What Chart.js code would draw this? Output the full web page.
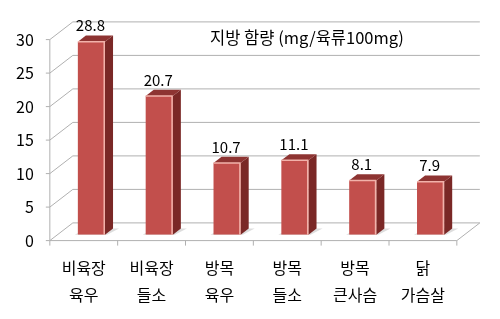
<!DOCTYPE html>
<html>
<head>
<meta charset="utf-8">
<script src="https://cdn.jsdelivr.net/npm/chart.js@4"></script>
<style>
  html, body { margin: 0; padding: 0; background: #fff; }
  #grafico { display: block; }
</style>
</head>
<body>
<canvas id="grafico" width="500" height="319"></canvas>
<script>
// dados do gráfico
const categorias = [
  ["비육장", "육우"],
  ["비육장", "들소"],
  ["방목", "육우"],
  ["방목", "들소"],
  ["방목", "큰사슴"],
  ["닭", "가슴살"]
];
const gordura = [28.8, 20.7, 10.7, 11.1, 8.1, 7.9];
const ticksY = [0, 5, 10, 15, 20, 25, 30];
const titulo = "지방 함량 (mg/육류100mg)";

const fonte = '"Noto Sans CJK KR", "Noto Sans", sans-serif';

// profundidade 3D: vetor da parede da frente até a parede do fundo
const prof = { dx: 23, dy: -17.7 };
const planoBarra = 1 / 3;   // barras ficam a 1/3 da profundidade
const profBarra = 0.35;     // espessura das barras

const efeito3d = {
  id: 'efeito3d',
  beforeDatasetsDraw(chart) {
    const { ctx, chartArea: area, scales } = chart;
    const y = scales.y;
    const fx = -planoBarra * prof.dx, fy = -planoBarra * prof.dy;
    const bx = (1 - planoBarra) * prof.dx, by = (1 - planoBarra) * prof.dy;
    ctx.save();
    ctx.lineWidth = 1;
    ctx.strokeStyle = '#b0b0b0';

    // linhas de grade na parede do fundo + diagonais da parede lateral
    ticksY.forEach(v => {
      const py = y.getPixelForValue(v);
      ctx.beginPath();
      ctx.moveTo(area.left + bx, py + by);
      ctx.lineTo(area.right + bx, py + by);
      ctx.stroke();
      ctx.beginPath();
      ctx.moveTo(area.left + fx, py + fy);
      ctx.lineTo(area.left + bx, py + by);
      ctx.stroke();
      // marca no eixo
      ctx.beginPath();
      ctx.moveTo(area.left + fx - 4, py + fy);
      ctx.lineTo(area.left + fx, py + fy);
      ctx.stroke();
    });

    // piso
    const y0 = y.getPixelForValue(0);
    ctx.beginPath();
    ctx.moveTo(area.left + fx, y0 + fy);
    ctx.lineTo(area.right + fx, y0 + fy);
    ctx.lineTo(area.right + bx, y0 + by);
    ctx.stroke();

    // eixo vertical da frente
    ctx.beginPath();
    ctx.moveTo(area.left + fx, y.getPixelForValue(30) + fy);
    ctx.lineTo(area.left + fx, y0 + fy);
    ctx.stroke();

    // marcas das categorias
    const larg = (area.right - area.left) / categorias.length;
    for (let i = 0; i <= categorias.length; i++) {
      const px = area.left + fx + i * larg;
      ctx.beginPath();
      ctx.moveTo(px, y0 + fy);
      ctx.lineTo(px, y0 + fy + 5);
      ctx.stroke();
    }

    // sombra das barras no piso
    const meta = chart.getDatasetMeta(0);
    ctx.fillStyle = 'rgba(120,120,120,0.25)';
    meta.data.forEach(bar => {
      const x0 = bar.x - bar.width / 2, x1 = bar.x + bar.width / 2;
      const sx = profBarra * prof.dx, sy = profBarra * prof.dy;
      ctx.beginPath();
      ctx.moveTo(x0 - 3, y0);
      ctx.lineTo(x1 + 2, y0);
      ctx.lineTo(x1 + sx + 6, y0 + sy);
      ctx.lineTo(x0 + sx, y0 + sy);
      ctx.closePath();
      ctx.fill();
    });
    ctx.restore();
  },
  afterDatasetsDraw(chart) {
    const { ctx, chartArea: area, scales } = chart;
    const y = scales.y;
    const meta = chart.getDatasetMeta(0);
    const sx = profBarra * prof.dx, sy = profBarra * prof.dy;
    const fx = -planoBarra * prof.dx, fy = -planoBarra * prof.dy;
    ctx.save();

    meta.data.forEach((bar, i) => {
      const x0 = bar.x - bar.width / 2, x1 = bar.x + bar.width / 2;
      const topo = bar.y, base = bar.base;

      // lateral
      ctx.fillStyle = '#7a2826';
      ctx.beginPath();
      ctx.moveTo(x1, topo);
      ctx.lineTo(x1 + sx, topo + sy);
      ctx.lineTo(x1 + sx, base + sy);
      ctx.lineTo(x1, base);
      ctx.closePath();
      ctx.fill();

      // topo
      ctx.fillStyle = '#8e3432';
      ctx.beginPath();
      ctx.moveTo(x0, topo);
      ctx.lineTo(x1, topo);
      ctx.lineTo(x1 + sx, topo + sy);
      ctx.lineTo(x0 + sx, topo + sy);
      ctx.closePath();
      ctx.fill();

      // brilho da aresta
      ctx.strokeStyle = '#f2b2aa';
      ctx.lineWidth = 1.5;
      ctx.beginPath();
      ctx.moveTo(x1 - 0.75, base);
      ctx.lineTo(x1 - 0.75, topo);
      ctx.lineTo(x0, topo);
      ctx.stroke();

      // rótulo do valor
      ctx.fillStyle = '#000';
      ctx.font = '15px ' + fonte;
      ctx.textAlign = 'center';
      ctx.textBaseline = 'middle';
      ctx.fillText(String(gordura[i]), bar.x - 1, topo - 16);

      // rótulo da categoria
      ctx.font = '16px ' + fonte;
      ctx.fillText(categorias[i][0], bar.x + fx, 268);
      ctx.fillText(categorias[i][1], bar.x + fx, 295);
    });

    // rótulos do eixo Y
    ctx.font = '16px ' + fonte;
    ctx.textAlign = 'right';
    ctx.textBaseline = 'middle';
    ctx.fillStyle = '#000';
    ticksY.forEach(v => {
      ctx.fillText(String(v), area.left + fx - 16, y.getPixelForValue(v) + fy);
    });

    // título
    ctx.font = '16.5px ' + fonte;
    ctx.textAlign = 'center';
    ctx.fillText(titulo, 307, 38);
    ctx.restore();
  }
};

const ctx = document.getElementById('grafico').getContext('2d');
const grafico = new Chart(ctx, {
  type: 'bar',
  data: {
    labels: categorias,
    datasets: [{
      data: gordura,
      backgroundColor: '#c24f4c',
      borderWidth: 0,
      barPercentage: 0.4,
      categoryPercentage: 1
    }]
  },
  options: {
    responsive: false,
    animation: false,
    layout: { padding: { left: 57.5, right: 35.5, top: 33.7, bottom: 84.3 } },
    plugins: { legend: { display: false }, tooltip: { enabled: false } },
    scales: {
      x: { display: false },
      y: { display: false, min: 0, max: 30 }
    }
  },
  plugins: [efeito3d]
});
</script>
</body>
</html>
